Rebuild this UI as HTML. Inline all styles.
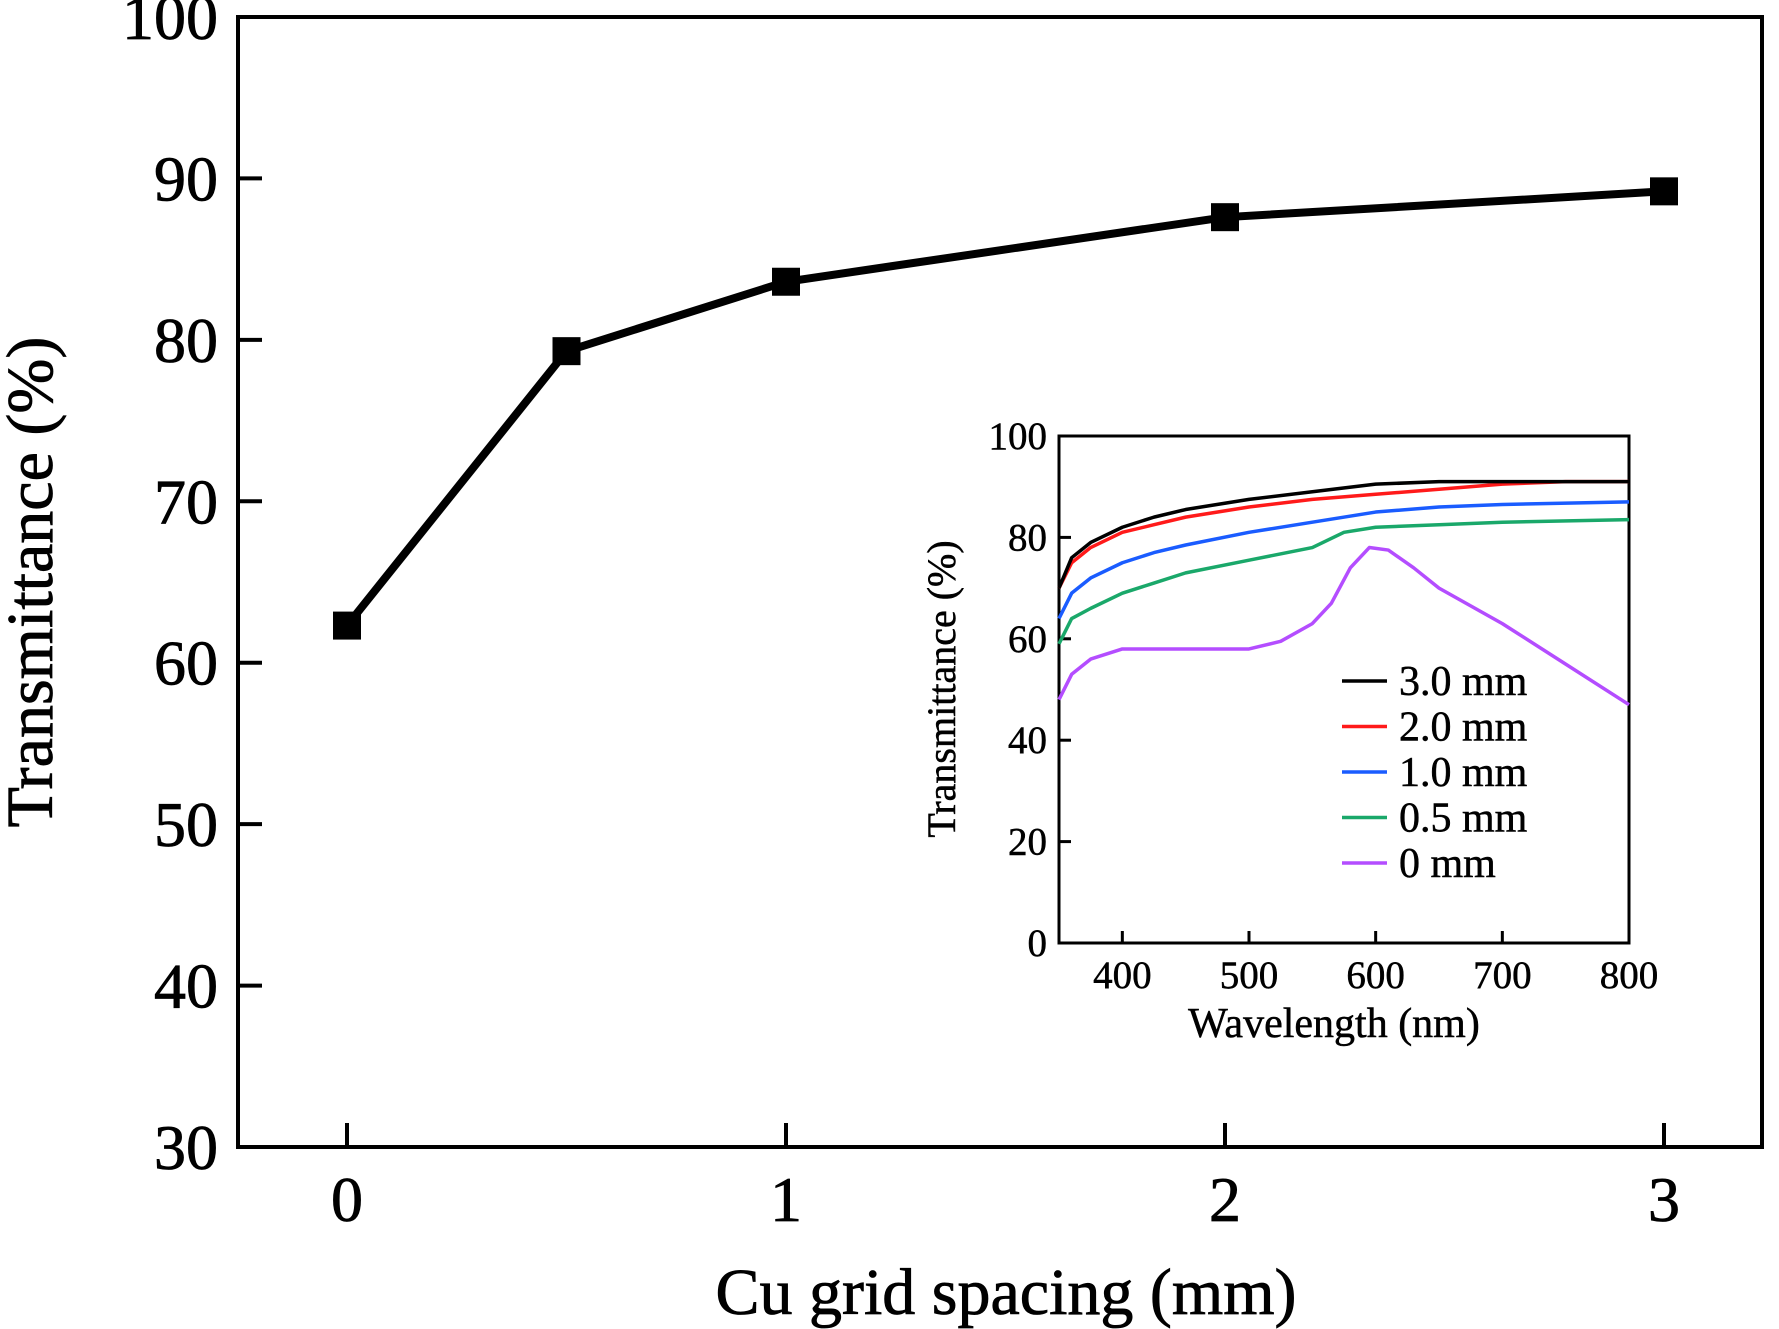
<!DOCTYPE html>
<html><head><meta charset="utf-8"><style>
html,body{margin:0;padding:0;background:#fff;}
svg{display:block;font-family:"Liberation Serif",serif;}
</style></head><body>
<svg id="chart" width="1779" height="1329" viewBox="0 0 1779 1329">
<g id="main"></g><g id="inset"></g>
</svg>
<script>
const mainX=[0,0.5,1,2,3];
const mainY=[62.3,79.3,83.6,87.6,89.2];
const mainYTicks=[30,40,50,60,70,80,90,100];
const mainXTicks=[0,1,2,3];
const wl3=[[350,70],[355,73],[360,76],[375,79],[400,82],[425,84],[450,85.5],[500,87.5],[550,89],[600,90.5],[650,91],[700,91],[800,91]];
const wl2=[[350,70],[360,75],[375,78],[400,81],[425,82.5],[450,84],[500,86],[550,87.5],[600,88.5],[650,89.5],[700,90.5],[750,91],[800,91]];
const wl1=[[350,64],[360,69],[375,72],[400,75],[425,77],[450,78.5],[500,81],[550,83],[600,85],[650,86],[700,86.5],[800,87]];
const wl05=[[350,59],[360,64],[375,66],[400,69],[425,71],[450,73],[500,75.5],[550,78],[575,81],[600,82],[650,82.5],[700,83],[800,83.5]];
const wl0=[[350,48],[360,53],[375,56],[400,58],[450,58],[500,58],[525,59.5],[550,63],[565,67],[580,74],[595,78],[610,77.5],[630,74],[650,70],[700,63],[750,55],[800,47]];
const insetXTicks=[400,500,600,700,800];
const insetYTicks=[0,20,40,60,80,100];
const legendLabels=["3.0 mm","2.0 mm","1.0 mm","0.5 mm","0 mm"];
const seriesColors=["#000000","#ff1a1a","#1a5cff","#1aa86a","#b44dff"];
const series=[wl3,wl2,wl1,wl05,wl0];

const NS="http://www.w3.org/2000/svg";
function mk(parent,tag,attrs,text){const e=document.createElementNS(NS,tag);for(const k in attrs)e.setAttribute(k,attrs[k]);if(text!==undefined)e.textContent=text;parent.appendChild(e);return e;}

const L=238,T=17,R=1762,B=1147;
const xm=v=>347+(1664-347)*v/3;
const ym=v=>B-(B-T)*(v-30)/70;
const g=document.getElementById('main');
let fr=mk(g,'rect',{x:L,y:T,width:R-L,height:B-T,fill:'none',stroke:'#000','stroke-width':4});


mainYTicks.forEach(v=>{
 let t=mk(g,'line',{x1:L,x2:L+24,y1:ym(v),y2:ym(v),stroke:'#000','stroke-width':4});
 
 
 let l=mk(g,'text',{x:L-20,y:ym(v)+22,'text-anchor':'end','font-size':64,stroke:'#000','stroke-width':0.8},String(v));
 
 
});
mainXTicks.forEach(v=>{
 let t=mk(g,'line',{x1:xm(v),x2:xm(v),y1:B,y2:B-24,stroke:'#000','stroke-width':4});
 
 
 let l=mk(g,'text',{x:xm(v),y:B+74,'text-anchor':'middle','font-size':64,stroke:'#000','stroke-width':0.8},String(v));
 
 
});
let yt=mk(g,'text',{x:0,y:0,transform:'translate(52,582) rotate(-90)','text-anchor':'middle','font-size':66,stroke:'#000','stroke-width':0.8},'Transmittance (%)');


let xt=mk(g,'text',{x:1006,y:1314,'text-anchor':'middle','font-size':66,stroke:'#000','stroke-width':0.8},'Cu grid spacing (mm)');


let pl=mk(g,'polyline',{points:mainX.map((v,i)=>xm(v)+','+ym(mainY[i])).join(' '),fill:'none',stroke:'#000','stroke-width':8});


mainX.forEach((v,i)=>{
 let m=mk(g,'rect',{x:xm(v)-14,y:ym(mainY[i])-14,width:28,height:28,fill:'#000'});
 
 
});

const iL=1059,iT=436,iR=1629,iB=943;
const xi=v=>iL+(iR-iL)*(v-350)/450;
const yi=v=>iB-(iB-iT)*v/100;
const h=document.getElementById('inset');
let ifr=mk(h,'rect',{x:iL,y:iT,width:iR-iL,height:iB-iT,fill:'#fff',stroke:'#000','stroke-width':3});


insetYTicks.forEach(v=>{
 let t=mk(h,'line',{x1:iL,x2:iL+12,y1:yi(v),y2:yi(v),stroke:'#000','stroke-width':3});
 
 
 let l=mk(h,'text',{x:iL-12,y:yi(v)+13,'text-anchor':'end','font-size':39,stroke:'#000','stroke-width':0.5},String(v));
 
 
});
insetXTicks.forEach(v=>{
 let t=mk(h,'line',{x1:xi(v),x2:xi(v),y1:iB,y2:iB-12,stroke:'#000','stroke-width':3});
 
 
 let l=mk(h,'text',{x:xi(v),y:iB+45,'text-anchor':'middle','font-size':39,stroke:'#000','stroke-width':0.5},String(v));
 
 
});
let iyt=mk(h,'text',{x:0,y:0,transform:'translate(955,689) rotate(-90)','text-anchor':'middle','font-size':40,stroke:'#000','stroke-width':0.5},'Transmittance (%)');


let ixt=mk(h,'text',{x:1334,y:1037,'text-anchor':'middle','font-size':42,stroke:'#000','stroke-width':0.5},'Wavelength (nm)');


series.slice().reverse().forEach((s,ri)=>{
 const i=series.length-1-ri;
 let p=mk(h,'polyline',{points:s.map(d=>xi(d[0])+','+yi(d[1])).join(' '),fill:'none',stroke:seriesColors[i],'stroke-width':3.5,'stroke-linejoin':'round'});
 
 
});
legendLabels.forEach((lab,i)=>{
 const y=681+i*45.5;
 let ln=mk(h,'line',{x1:1342,x2:1387,y1:y,y2:y,stroke:seriesColors[i],'stroke-width':3.5});
 
 
 let tx=mk(h,'text',{x:1399,y:y+14,'font-size':42,stroke:'#000','stroke-width':0.5},lab);
 
 
});
</script>
</body></html>
